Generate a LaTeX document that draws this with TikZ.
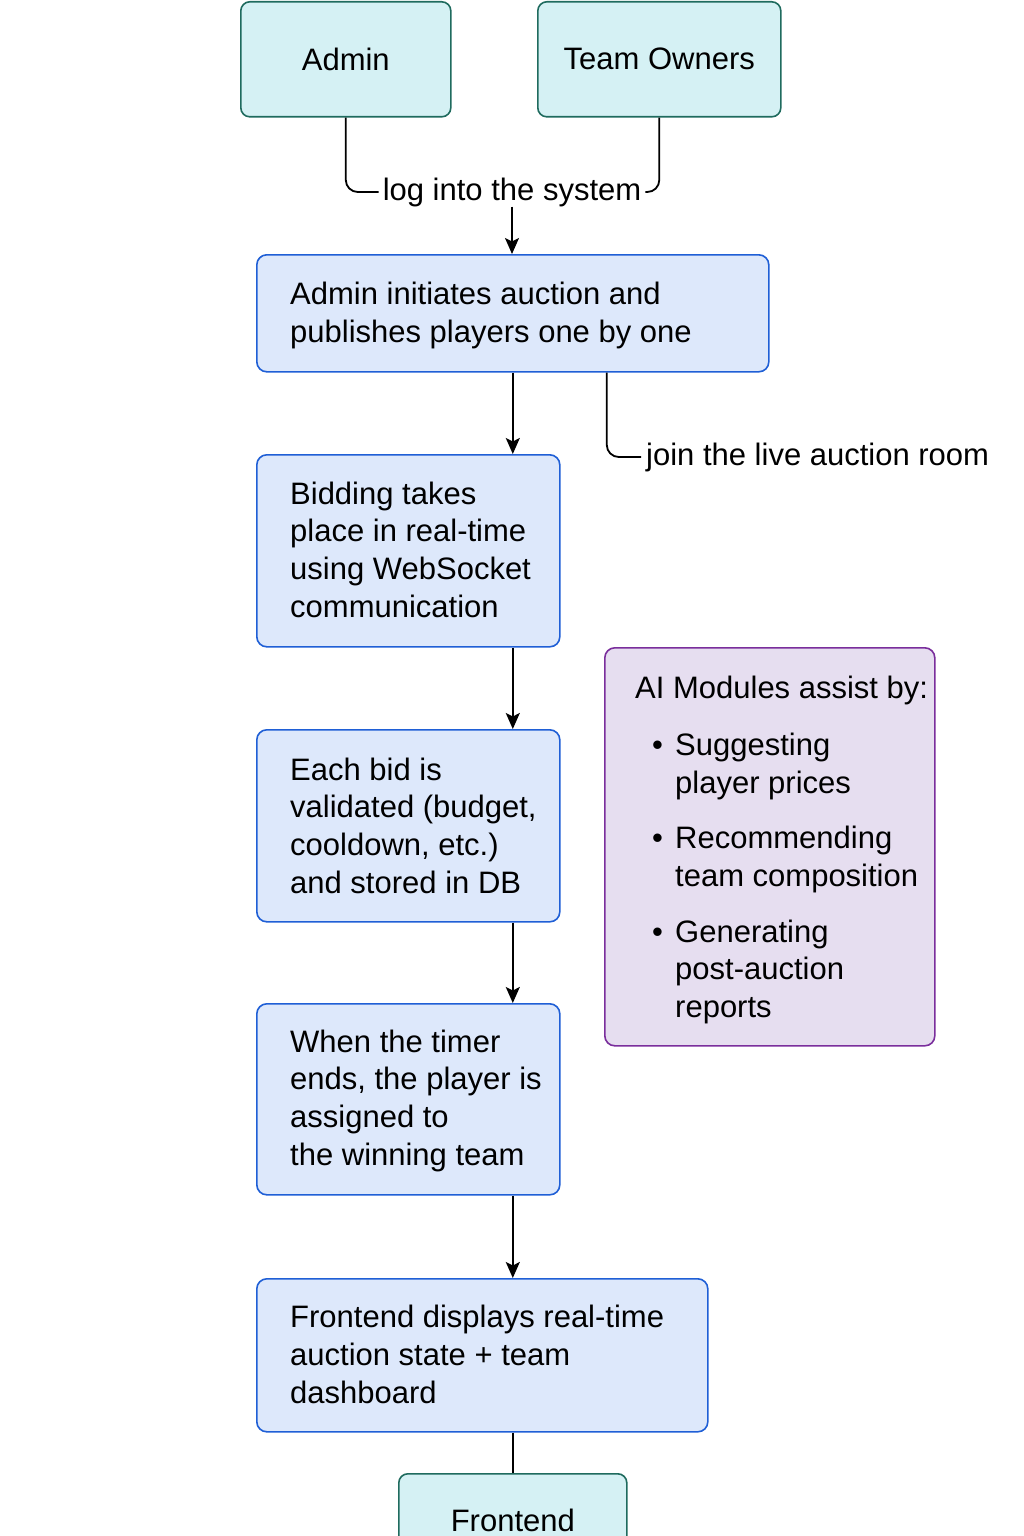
\documentclass[tikz,border=0pt]{standalone}
\usepackage{fontspec}
\setmainfont{Liberation Sans}
\usetikzlibrary{arrows.meta}
\definecolor{tealfill}{HTML}{D5F1F4}
\definecolor{tealdraw}{HTML}{1F6B5E}
\definecolor{bluefill}{HTML}{DDE8FB}
\definecolor{bluedraw}{HTML}{1F5FD6}
\definecolor{aifill}{HTML}{E6DEF0}
\definecolor{aidraw}{HTML}{7A2E9C}
\begin{document}
\begin{tikzpicture}[x=1pt,y=-1pt,
  every node/.style={font=\fontsize{31}{37.6}\selectfont, inner sep=0pt},
  actor/.style={draw=tealdraw, fill=tealfill, line width=1.6pt, rounded corners=9pt, anchor=north west},
  stepbox/.style={draw=bluedraw, fill=bluefill, line width=1.6pt, rounded corners=10pt, anchor=north west},
  aibox/.style={draw=aidraw, fill=aifill, line width=1.6pt, rounded corners=10pt, anchor=north west},
  txt/.style={anchor=base west, align=left},
  lbl/.style={inner xsep=4pt},
  conn/.style={line width=1.8pt, draw=black},
  arr/.style={conn, -{Stealth[length=16pt,width=14pt,inset=3.5pt]}},
]
\fill[white] (0,0) rectangle (1024,1536);
\useasboundingbox (0,0) rectangle (1024,1536);

% actors
\node[actor, minimum width=210pt, minimum height=115pt] (admin) at (240,1) {Admin};
\node[actor, minimum width=243pt, minimum height=115pt] (owners) at (537,1) {Team Owners};

% steps (text anchored at the baseline of its last line)
\node[stepbox, minimum width=512pt, minimum height=117pt] (b1) at (256,254) {};
\node[txt] (b1t) at (290,342) {Admin initiates auction and\\publishes players one by one};

\node[stepbox, minimum width=303pt, minimum height=192pt] (b2) at (256,454) {};
\node[txt] (b2t) at (290,617) {Bidding takes\\place in real-time\\using WebSocket\\communication};

\node[stepbox, minimum width=303pt, minimum height=192pt] (b3) at (256,729) {};
\node[txt] (b3t) at (290,893) {Each bid is\\validated (budget,\\cooldown, etc.)\\and stored in DB};

\node[stepbox, minimum width=303pt, minimum height=191pt] (b4) at (256,1003) {};
\node[txt] (b4t) at (290,1165) {When the timer\\ends, the player is\\assigned to\\the winning team};

\node[stepbox, minimum width=451pt, minimum height=153pt] (b5) at (256,1278) {};
\node[txt] (b5t) at (290,1403) {Frontend displays real-time\\auction state + team\\dashboard};

\node[actor, minimum width=228pt, minimum height=94pt] (fe) at (398,1473) {Frontend};

% AI box
\node[aibox, minimum width=330pt, minimum height=398pt] (ai) at (604,647) {};
\node[anchor=base west] (ait) at (635,698) {\begin{tabular}[t]{@{}l@{}l@{}}
\multicolumn{2}{@{}l@{}}{AI Modules assist by:}\\[20pt]
\makebox[40pt][l]{\hspace*{17pt}\textbullet} & Suggesting\\
 & player prices\\[18pt]
\makebox[40pt][l]{\hspace*{17pt}\textbullet} & Recommending\\
 & team composition\\[18pt]
\makebox[40pt][l]{\hspace*{17pt}\textbullet} & Generating\\
 & post-auction\\
 & reports
\end{tabular}};

% labels
\node[lbl] (login) at (512,192) {log into the system};
\node[lbl, inner xsep=5pt, anchor=west] (join) at (641,457) {join the live auction room};

% connectors
\draw[conn, rounded corners=12pt] (admin.south) |- (login.west);
\draw[conn, rounded corners=12pt] (owners.south) |- (login.east);
\draw[arr] (login.south) -- (login.south |- b1.north);
\draw[arr] (b1.south) -- (b1.south |- b2.north);
\draw[conn, rounded corners=12pt] ([xshift=94pt]b1.south) |- (join.west);
\draw[arr] (b2.south -| b1.south) -- (b3.north -| b1.south);
\draw[arr] (b3.south -| b1.south) -- (b4.north -| b1.south);
\draw[arr] (b4.south -| b1.south) -- (b5.north -| b1.south);
\draw[conn] (b5.south -| fe.north) -- (fe.north);
\end{tikzpicture}
\end{document}
